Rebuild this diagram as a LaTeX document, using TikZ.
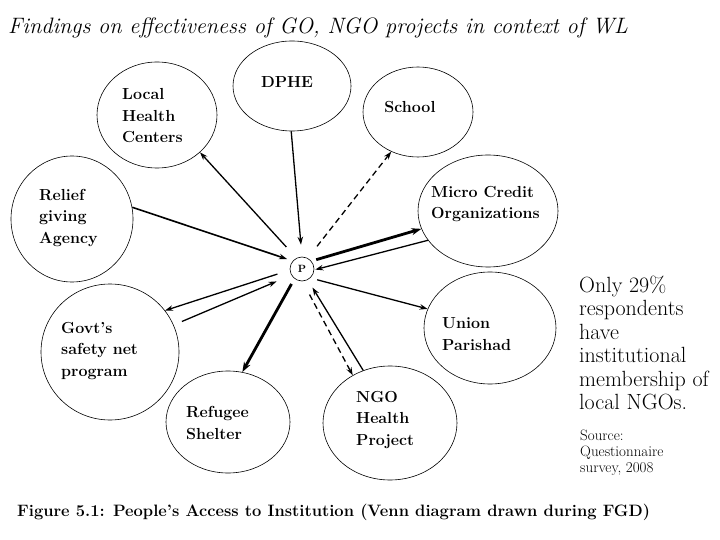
\documentclass[tikz,border=0pt]{standalone}
\usepackage{fontspec}
\usetikzlibrary{shapes.geometric,arrows.meta}
\begin{document}
\begin{tikzpicture}[x=1pt,y=-1pt,
  bub/.style={ellipse,draw,line width=0.6pt,inner sep=0pt},
  lab/.style={font=\fontsize{16}{21.5}\selectfont\bfseries,align=left,anchor=west,inner sep=0pt},
  arr/.style={line width=1.3pt,-{Stealth[length=8pt,width=5.5pt]}},
  thk/.style={line width=2.8pt,-{Stealth[length=10pt,width=7pt]}},
  dsh/.style={arr,dash pattern=on 6pt off 4pt}]
\useasboundingbox (0,0) rectangle (720,540);
\fill[white] (0,0) rectangle (720,540);

% title and caption
\node[font=\fontsize{22.3}{25}\selectfont\itshape,anchor=base west,inner sep=0pt] (title) at (8,34)
  {Findings on effectiveness of GO, NGO projects in context of WL};
\node[font=\fontsize{16.5}{19}\selectfont\bfseries,anchor=base west,inner sep=0pt] (cap) at (17,516)
  {Figure 5.1: People’s Access to Institution (Venn diagram drawn during FGD)};

% bubbles
\node[bub,minimum width=120pt,minimum height=106pt] (lhc) at (157,115) {};
\node[bub,minimum width=118pt,minimum height=90pt] (dphe) at (292,86) {};
\node[bub,minimum width=110pt,minimum height=90pt] (school) at (418,112) {};
\node[bub,minimum width=140pt,minimum height=112pt] (mc) at (488,211) {};
\node[bub,minimum width=122pt,minimum height=126pt] (relief) at (72,219) {};
\node[bub,minimum width=138pt,minimum height=136pt] (govt) at (110,352) {};
\node[bub,minimum width=132pt,minimum height=112pt] (union) at (490,328) {};
\node[bub,minimum width=124pt,minimum height=102pt] (ref) at (228,422) {};
\node[bub,minimum width=134pt,minimum height=114pt] (ngo) at (390,423) {};
\node[circle,draw,line width=0.6pt,minimum size=24pt,inner sep=0pt,font=\fontsize{10.5}{10.5}\selectfont\bfseries] (P) at (302,269) {P};

% labels
\node[lab] (lhc-t) at (122,116) {Local\\Health\\Centers};
\node[lab,anchor=center] (dphe-t) at (287,82) {DPHE};
\node[lab,anchor=center] (school-t) at (410,107) {School};
\node[lab] (mc-t) at (431,204) {Micro Credit\\Organizations};
\node[lab] (relief-t) at (39,218) {Relief\\giving\\Agency};
\node[lab] (govt-t) at (61,351) {Govt’s\\safety net\\program};
\node[lab] (union-t) at (442,334) {Union\\Parishad};
\node[lab] (ref-t) at (186,423) {Refugee\\Shelter};
\node[lab] (ngo-t) at (356,420) {NGO\\Health\\Project};

% side note
\node[font=\fontsize{22}{23.5}\selectfont,align=left,anchor=west,inner sep=0pt] (note) at (579,343)
  {Only 29\%\\respondents\\have\\institutional\\membership of\\local NGOs.};
\node[font=\fontsize{15}{16}\selectfont,align=left,anchor=west,inner sep=0pt] (src) at (580,452.5)
  {Source:\\Questionnaire\\survey, 2008};

% connectors
\draw[arr,shorten <=15pt] (P.117) -- (lhc.-41);
\draw[arr,shorten >=12pt] (dphe.-91) -- (P.90);
\draw[dsh,shorten <=15pt] (P.62) -- (school.-124);
\draw[thk,shorten <=5pt] (P.40) -- (mc.-165);
\draw[arr,shorten >=1pt] (mc.-154) -- (P.-4);
\draw[arr,line width=1.6pt,shorten >=6pt] (relief.11) -- (P.139);
\draw[arr,shorten <=13pt] (P.185) -- (govt.37);
\draw[arr,shorten <=9pt,shorten >=16pt] (govt.23) -- (P.210);
\draw[thk,shorten <=6pt] (P.232) -- (ref.74);
\draw[dsh,shorten <=15pt] (P.-88) -- (ngo.128);
\draw[arr,shorten >=9pt] (ngo.117) -- (P.-62);
\draw[arr,shorten <=7pt] (P.-47) -- (union.163);
\end{tikzpicture}
\end{document}
